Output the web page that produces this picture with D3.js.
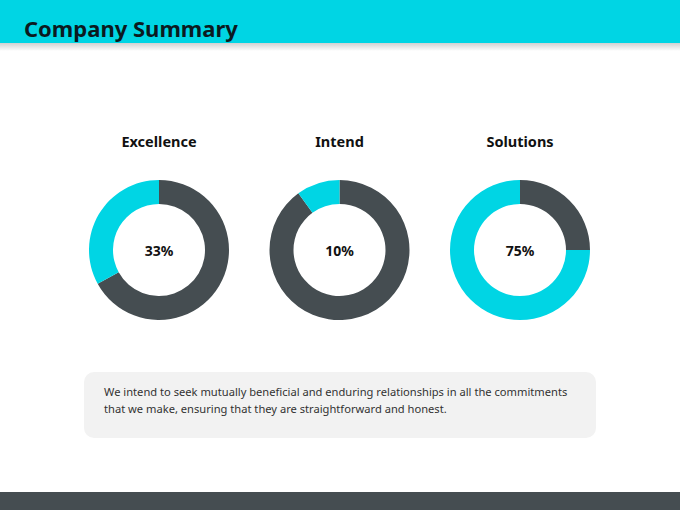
<!DOCTYPE html>
<html>
<head>
<meta charset="utf-8">
<script src="https://cdn.jsdelivr.net/npm/d3@7"></script>
<style>
  body { margin: 0; background: #fff; }
  svg { display: block; }
</style>
</head>
<body>
<div id="chart"></div>
<script>
var svg_width = 680;
var svg_height = 510;

// data
var categories = ['Excellence', 'Intend', 'Solutions'];
var percents = [33, 10, 75];
var caption_lines = [
  'We intend to seek mutually beneficial and enduring relationships in all the commitments',
  'that we make, ensuring that they are straightforward and honest.'
];

var cyan = '#00d5e4';
var dark = '#454d51';

var main_svg = d3.select('#chart')
  .append('svg')
  .attr('width', svg_width)
  .attr('height', svg_height);

var defs = main_svg.append('defs');

var shadow = defs.append('linearGradient')
  .attr('id', 'header-shadow')
  .attr('x1', 0).attr('y1', 0)
  .attr('x2', 0).attr('y2', 1);
shadow.append('stop').attr('offset', '0%').attr('stop-color', '#000').attr('stop-opacity', 0.18);
shadow.append('stop').attr('offset', '100%').attr('stop-color', '#000').attr('stop-opacity', 0);

// header
main_svg.append('rect')
  .attr('x', 0).attr('y', 43)
  .attr('width', svg_width).attr('height', 8)
  .attr('fill', 'url(#header-shadow)');

main_svg.append('rect')
  .attr('x', 0).attr('y', 0)
  .attr('width', svg_width).attr('height', 43)
  .attr('fill', cyan);

main_svg.append('text')
  .attr('x', 24).attr('y', 37)
  .attr('font-family', 'Noto Sans, sans-serif')
  .attr('font-weight', 'bold')
  .attr('font-size', '22px')
  .attr('fill', '#0b1a1f')
  .text('Company Summary');

// donuts
var x = d3.scalePoint()
  .domain(categories)
  .range([159, 520]);

var cy = 250;
var outer_r = 70;
var inner_r = 46;

var arc = d3.arc()
  .innerRadius(inner_r)
  .outerRadius(outer_r);

var pie = d3.pie()
  .sort(null)
  .value(function(d) { return d.value; });

var groups = main_svg.selectAll('g.donut')
  .data(categories)
  .enter()
  .append('g')
  .classed('donut', true)
  .attr('transform', function(d) { return 'translate(' + x(d) + ',' + cy + ')'; });

groups.each(function(d, i) {
  var g = d3.select(this);
  var p = percents[i];
  // dark part clockwise from top, cyan remainder ends back at top (counter-clockwise share)
  var slices = pie([
    { value: 100 - p, color: dark },
    { value: p, color: cyan }
  ]);
  g.selectAll('path')
    .data(slices)
    .enter()
    .append('path')
    .attr('d', arc)
    .attr('fill', function(s) { return s.data.color; });

  g.append('text')
    .attr('x', 0).attr('y', 6)
    .attr('text-anchor', 'middle')
    .attr('font-family', 'Noto Sans, sans-serif')
    .attr('font-weight', 'bold')
    .attr('font-size', '14px')
    .attr('fill', '#111')
    .text(p + '%');

  g.append('text')
    .attr('x', 0).attr('y', -103)
    .attr('text-anchor', 'middle')
    .attr('font-family', 'Noto Sans, sans-serif')
    .attr('font-weight', 'bold')
    .attr('font-size', '14.5px')
    .attr('fill', '#111')
    .text(d);
});

// caption box
main_svg.append('rect')
  .attr('x', 84).attr('y', 372)
  .attr('width', 512).attr('height', 66)
  .attr('rx', 10).attr('ry', 10)
  .attr('fill', '#f2f2f2');

main_svg.append('g')
  .selectAll('text')
  .data(caption_lines)
  .enter()
  .append('text')
  .attr('x', 104)
  .attr('y', function(d, i) { return 396 + i * 16.5; })
  .attr('font-family', 'Noto Sans, sans-serif')
  .attr('font-size', '11.15px')
  .attr('fill', '#333')
  .text(function(d) { return d; });

// footer
main_svg.append('rect')
  .attr('x', 0).attr('y', 492)
  .attr('width', svg_width).attr('height', 18)
  .attr('fill', dark);
</script>
</body>
</html>
